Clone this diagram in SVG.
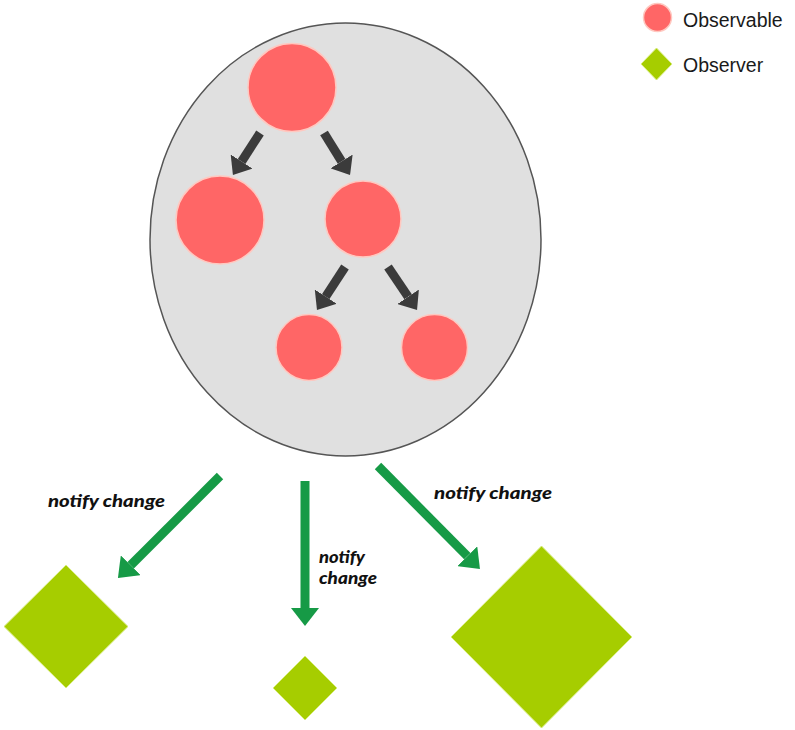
<svg xmlns="http://www.w3.org/2000/svg" width="795" height="730" viewBox="0 0 795 730">
<style>
.obs{fill:#ff6666;stroke:#ffc8c0;stroke-width:1.5}
.obr{fill:#a6cd00;stroke:#d8ec80;stroke-width:1}
.dark{stroke:#3b3b3b;stroke-width:9;fill:none}
.green{stroke:#169a46;stroke-width:9;fill:none}
.lbl{font-family:"Lato","DejaVu Sans",sans-serif;font-style:italic;font-weight:900;font-size:17px;fill:#111}
.lbl2{font-size:16px}
.leg{font-family:"Liberation Sans",Arial,sans-serif;font-size:19.5px;fill:#1a1a1a}
</style>
<defs>
<marker id="hd" markerUnits="userSpaceOnUse" markerWidth="17" markerHeight="26" refX="0" refY="13" orient="auto">
<path d="M0,0 L16,13 L0,26 z" fill="#3b3b3b"/>
</marker>
<marker id="hg" markerUnits="userSpaceOnUse" markerWidth="19" markerHeight="28" refX="0" refY="14" orient="auto">
<path d="M0,0 L18,14 L0,28 z" fill="#169a46"/>
</marker>
</defs>
<rect width="795" height="730" fill="#ffffff"/>
<g id="container">
<ellipse cx="345.5" cy="239.5" rx="195.5" ry="216.5" fill="#e0e0e0" stroke="#555" stroke-width="1.5"/>
</g>
<g id="connectors">
<line class="dark" x1="260" y1="133" x2="241.6" y2="161.5" marker-end="url(#hd)"/>
<line class="dark" x1="324" y1="133" x2="341.6" y2="161.4" marker-end="url(#hd)"/>
<line class="dark" x1="345" y1="267" x2="325.7" y2="296.6" marker-end="url(#hd)"/>
<line class="dark" x1="388" y1="267" x2="408.1" y2="296.8" marker-end="url(#hd)"/>
<line class="green" x1="220" y1="476" x2="130.7" y2="565.3" marker-end="url(#hg)"/>
<line class="green" x1="305" y1="481" x2="305" y2="608" marker-end="url(#hg)"/>
<line class="green" x1="378" y1="466" x2="467.3" y2="556.2" marker-end="url(#hg)"/>
<text class="lbl" x="48" y="507" textLength="117" lengthAdjust="spacingAndGlyphs">notify change</text>
<text class="lbl lbl2" x="319" y="563" textLength="46" lengthAdjust="spacingAndGlyphs">notify</text>
<text class="lbl lbl2" x="319" y="584" textLength="58" lengthAdjust="spacingAndGlyphs">change</text>
<text class="lbl" x="434" y="499" textLength="118" lengthAdjust="spacingAndGlyphs">notify change</text>
</g>
<g id="observable-root"><circle class="obs" cx="292" cy="87.5" r="44"/></g>
<g id="observable-left"><circle class="obs" cx="220" cy="220" r="44"/></g>
<g id="observable-right"><circle class="obs" cx="363" cy="219" r="38"/></g>
<g id="observable-rl"><circle class="obs" cx="309" cy="347.5" r="33"/></g>
<g id="observable-rr"><circle class="obs" cx="434.5" cy="347.5" r="33"/></g>
<g id="observer-left"><polygon class="obr" points="66,565 128,626.5 66,688 4,626.5"/></g>
<g id="observer-mid"><polygon class="obr" points="305,656 337,688 305,720 273,688"/></g>
<g id="observer-right"><polygon class="obr" points="541.5,546 632,637 541.5,728 451,637"/></g>
<g id="legend">
<circle class="obs" cx="657.5" cy="17.5" r="14"/>
<text class="leg" x="683" y="27">Observable</text>
<polygon class="obr" points="656.5,48 672,64 656.5,80 641,64"/>
<text class="leg" x="683" y="72">Observer</text>
</g>
</svg>
